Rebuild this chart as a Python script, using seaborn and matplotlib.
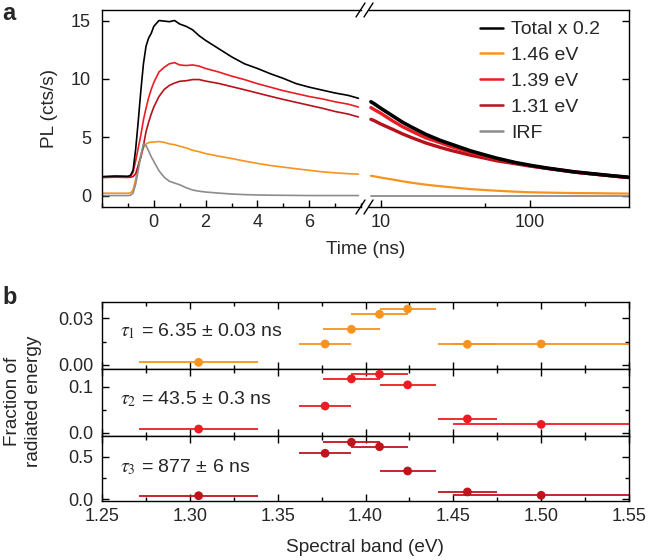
import matplotlib
matplotlib.use("Agg")
import matplotlib.pyplot as plt
import seaborn as sns
import pandas as pd
from matplotlib.lines import Line2D
from matplotlib.ticker import MultipleLocator, FixedLocator, NullFormatter, FormatStrFormatter

sns.set_theme(style="ticks")
plt.rcParams['font.family'] = ['Liberation Sans', 'DejaVu Sans']
plt.rcParams['mathtext.fontset'] = 'stix'

# ---------------- data: panel a (PL transients) ----------------
series_labels = ["Total x 0.2", "1.46 eV", "1.39 eV", "1.31 eV", "IRF"]
series_colors = ["#000000", "#F7931E", "#EC1C24", "#B5121B", "#8C8C8C"]

t_lin = [-2.0, -1.5, -1.0, -0.9, -0.8, -0.7, -0.6, -0.5, -0.4, -0.3, -0.2, -0.1, 0.0,
         0.2, 0.4, 0.6, 0.8, 1.0, 1.25, 1.5, 1.75, 2.0, 2.5, 3.0, 3.5, 4.0, 4.5, 5.0,
         5.5, 6.0, 6.5, 7.0, 7.5, 7.9]
total_lin = [1.65, 1.7, 1.68, 1.75, 2.2, 4.0, 6.4, 9.0, 11.3, 12.8, 13.5, 13.9, 14.5,
             15.0, 14.95, 14.9, 15.0, 14.7, 14.5, 14.2, 13.7, 13.3, 12.6, 11.9, 11.3, 10.9,
             10.45, 10.05, 9.6, 9.3, 9.05, 8.8, 8.6, 8.35]
e146_lin = [0.23, 0.23, 0.23, 0.25, 0.5, 1.45, 2.6, 3.5, 4.1, 4.45, 4.55, 4.6, 4.6,
            4.65, 4.58, 4.45, 4.38, 4.25, 4.1, 3.9, 3.78, 3.62, 3.4, 3.2, 2.98, 2.78,
            2.6, 2.46, 2.32, 2.19, 2.06, 1.97, 1.9, 1.86]
e139_lin = [1.62, 1.65, 1.63, 1.7, 2.0, 3.0, 4.1, 5.2, 6.5, 7.5, 8.4, 9.1, 9.7,
            10.6, 11.0, 11.3, 11.4, 11.2, 11.15, 11.2, 11.1, 10.9, 10.6, 10.25, 9.95, 9.6,
            9.3, 9.0, 8.75, 8.5, 8.3, 8.05, 7.85, 7.6]
e131_lin = [1.57, 1.6, 1.58, 1.6, 1.65, 1.9, 2.6, 3.3, 4.3, 5.5, 6.3, 7.0, 7.6,
            8.5, 9.1, 9.45, 9.65, 9.8, 9.85, 9.95, 9.95, 9.82, 9.62, 9.35, 9.08, 8.8,
            8.52, 8.25, 8.0, 7.75, 7.5, 7.22, 7.0, 6.75]
irf_lin = [0.03, 0.03, 0.03, 0.05, 0.25, 1.0, 2.2, 3.45, 4.45, 4.3, 3.85, 3.35, 2.95,
           2.15, 1.6, 1.25, 1.1, 0.95, 0.7, 0.5, 0.4, 0.33, 0.24, 0.16, 0.11, 0.08,
           0.06, 0.05, 0.04, 0.03, 0.03, 0.03, 0.03, 0.03]

t_log = [8.6, 9, 10, 12, 14, 16, 20, 25, 30, 40, 50, 60, 80, 100, 130, 160, 200, 270, 350, 455]
total_log = [8.05, 7.9, 7.5, 6.85, 6.3, 5.9, 5.27, 4.75, 4.4, 3.85, 3.5, 3.22, 2.85, 2.62,
             2.38, 2.22, 2.05, 1.88, 1.73, 1.6]
e146_log = [1.72, 1.68, 1.57, 1.4, 1.25, 1.13, 0.96, 0.83, 0.73, 0.58, 0.5, 0.44, 0.36, 0.31,
            0.28, 0.26, 0.24, 0.23, 0.21, 0.2]
e139_log = [7.55, 7.4, 7.07, 6.42, 5.92, 5.55, 4.97, 4.55, 4.2, 3.72, 3.4, 3.15, 2.82, 2.58,
            2.36, 2.2, 2.03, 1.86, 1.72, 1.57]
e131_log = [6.55, 6.45, 6.15, 5.7, 5.3, 5.0, 4.53, 4.15, 3.87, 3.48, 3.22, 3.0, 2.75, 2.55,
            2.35, 2.2, 2.03, 1.86, 1.72, 1.57]
irf_log = [0.03, 0.03, 0.03, 0.03, 0.03, 0.03, 0.03, 0.03, 0.03, 0.03, 0.03, 0.03, 0.03, 0.03,
           0.03, 0.03, 0.03, 0.03, 0.03, 0.03]

# ---------------- data: panel b (fractions of radiated energy) ----------------
band_center = [1.305, 1.377, 1.392, 1.408, 1.424, 1.458, 1.500]
band_halfwidth = [0.034, 0.015, 0.016, 0.016, 0.016, 0.017, 0.050]
frac_tau1 = [0.0017, 0.0135, 0.0229, 0.0326, 0.0360, 0.0133, 0.0135]
frac_tau2 = [0.008, 0.058, 0.117, 0.127, 0.104, 0.030, 0.018]
frac_tau3 = [0.042, 0.540, 0.669, 0.617, 0.332, 0.086, 0.047]
tau_texts = [r"$\tau_1$ = 6.35 ± 0.03 ns", r"$\tau_2$ = 43.5 ± 0.3 ns", r"$\tau_3$ = 877 ± 6 ns"]
tau_colors = ["#F7931E", "#EC1C24", "#C0141C"]
tau_yticks = [[0.0, 0.03], [0.0, 0.1], [0.0, 0.5]]
tau_yminor = [0.015, 0.05, 0.25]
tau_ylims = [(-0.0026, 0.0403), (-0.0065, 0.1385), (-0.02, 0.746)]
tau_fmt = ["%.2f", "%.1f", "%.1f"]

# ---------------- figure ----------------
W, H = 648, 560
fig = plt.figure(figsize=(W / 100, H / 100), dpi=100)
fig.patch.set_facecolor("white")


def ax_at(l, t, r, b):
    return fig.add_axes([l / W, 1 - b / H, (r - l) / W, (b - t) / H])


TICK = 13
LAB = 13.7
LEG = 14
axL = ax_at(102, 10, 361, 207)
axR = ax_at(369, 10, 629, 207)

lin_vals = {"Total x 0.2": total_lin, "1.46 eV": e146_lin, "1.39 eV": e139_lin,
            "1.31 eV": e131_lin, "IRF": irf_lin}
log_vals = {"Total x 0.2": total_log, "1.46 eV": e146_log, "1.39 eV": e139_log,
            "1.31 eV": e131_log, "IRF": irf_log}
draw_order = ["1.46 eV", "1.31 eV", "1.39 eV", "IRF", "Total x 0.2"]
col = dict(zip(series_labels, series_colors))
lw_log = {"Total x 0.2": 2.6, "1.46 eV": 1.6, "1.39 eV": 2.4, "1.31 eV": 2.4, "IRF": 1.3}

for name in draw_order:
    sns.lineplot(x=t_lin, y=lin_vals[name], ax=axL, color=col[name], lw=1.2,
                 estimator=None, sort=False, legend=False)
axR.set_xscale("log")
for name in draw_order:
    sns.lineplot(x=t_log, y=log_vals[name], ax=axR, color=col[name], lw=lw_log[name],
                 estimator=None, sort=False, legend=False)

for ax in (axL, axR):
    ax.set_ylim(-0.95, 15.9)
    ax.set_yticks([0, 5, 10, 15])
    for s in ax.spines.values():
        s.set_linewidth(1.0)
        s.set_color("black")
    ax.set_xlabel("")
    ax.set_ylabel("")

axL.set_xlim(-2.0, 8.0)
axL.xaxis.set_major_locator(FixedLocator([0, 2, 4, 6]))
axL.xaxis.set_minor_locator(MultipleLocator(1))
axL.spines["right"].set_visible(False)
axL.tick_params(axis="both", which="both", direction="in", labelsize=TICK, color="black")
axL.tick_params(axis="both", which="major", length=5, width=1.0)
axL.tick_params(axis="both", which="minor", length=3.2, width=1.0)
axL.tick_params(axis="x", pad=5)
axL.tick_params(axis="y", pad=8)

axR.set_xlim(8.35, 460)
axR.xaxis.set_major_locator(FixedLocator([10, 100]))
axR.xaxis.set_minor_locator(FixedLocator([50]))
axR.xaxis.set_major_formatter(FormatStrFormatter("%d"))
axR.xaxis.set_minor_formatter(NullFormatter())
axR.spines["left"].set_visible(False)
axR.yaxis.tick_right()
axR.tick_params(axis="y", which="both", labelright=False, labelleft=False, left=False)
axR.tick_params(axis="both", which="both", direction="in", labelsize=TICK, color="black")
axR.tick_params(axis="both", which="major", length=5, width=1.0)
axR.tick_params(axis="both", which="minor", length=3.2, width=1.0)
axR.tick_params(axis="x", pad=5)

# break marks
for (x0, x1) in [(356, 365), (364, 373)]:
    for ys in (207, 10):
        fig.add_artist(Line2D([x0 / W, x1 / W], [1 - (ys + 7) / H, 1 - (ys - 7) / H],
                              transform=fig.transFigure, color="black", lw=1.0))

handles = [Line2D([], [], color=c, lw=1.8) for c in series_colors]
axR.legend(handles, series_labels, loc="upper left", bbox_to_anchor=(0.428, 0.945),
           frameon=False, fontsize=LEG, handlelength=1.15, handletextpad=0.45,
           labelspacing=0.42, borderpad=0, borderaxespad=0)

fig.text(50 / W, 1 - 108.5 / H, "PL (cts/s)", rotation=90, ha="center", va="center", fontsize=LAB)
fig.text(366 / W, 1 - 250 / H, "Time (ns)", ha="center", va="center", fontsize=LAB)
fig.text(2 / W, 1 - 14 / H, "a", ha="left", va="center", fontsize=17, fontweight="bold")

# ---------------- panel b ----------------
bounds = [(302.3, 369), (369, 435.7), (435.7, 501)]
fracs = [frac_tau1, frac_tau2, frac_tau3]
text_y = [0.56, 0.546, 0.525]
axes_b = []
for i in range(3):
    ax = ax_at(102, bounds[i][0], 629, bounds[i][1])
    axes_b.append(ax)
    df = pd.DataFrame({"band": band_center, "frac": fracs[i], "hw": band_halfwidth})
    ax.errorbar(df["band"], df["frac"], xerr=df["hw"], fmt="none", ecolor=tau_colors[i],
                elinewidth=1.3, capsize=0, zorder=2)
    sns.scatterplot(data=df, x="band", y="frac", ax=ax, color=tau_colors[i], s=40,
                    edgecolor="none", zorder=3, legend=False)
    ax.set_xlim(1.25, 1.55)
    ax.set_ylim(*tau_ylims[i])
    ax.set_yticks(tau_yticks[i])
    ax.yaxis.set_minor_locator(MultipleLocator(tau_yminor[i]))
    ax.yaxis.set_major_formatter(FormatStrFormatter(tau_fmt[i]))
    ax.xaxis.set_major_locator(MultipleLocator(0.05))
    ax.xaxis.set_minor_locator(MultipleLocator(0.025))
    ax.xaxis.set_major_formatter(FormatStrFormatter("%.2f"))
    ax.tick_params(axis="both", which="both", direction="in", top=True, right=True,
                   labelsize=TICK, color="black")
    ax.tick_params(axis="both", which="major", length=5, width=1.0)
    ax.tick_params(axis="both", which="minor", length=3.2, width=1.0)
    ax.tick_params(axis="y", pad=6)
    ax.tick_params(axis="x", pad=5)
    if i < 2:
        ax.tick_params(axis="x", labelbottom=False)
    for s in ax.spines.values():
        s.set_linewidth(1.0)
        s.set_color("black")
    ax.set_xlabel("")
    ax.set_ylabel("")
    ax.text(0.034, text_y[i], tau_texts[i], transform=ax.transAxes, ha="left", va="center",
            fontsize=LEG)

fig.text(23 / W, 1 - 401.7 / H, "Fraction of\nradiated energy", rotation=90, ha="center",
         va="center", fontsize=LAB, linespacing=1.3, multialignment="center")
fig.text(365 / W, 1 - 548 / H, "Spectral band (eV)", ha="center", va="center", fontsize=LAB)
fig.text(2 / W, 1 - 297 / H, "b", ha="left", va="center", fontsize=17, fontweight="bold")

fig.savefig("out.png", dpi=100)
